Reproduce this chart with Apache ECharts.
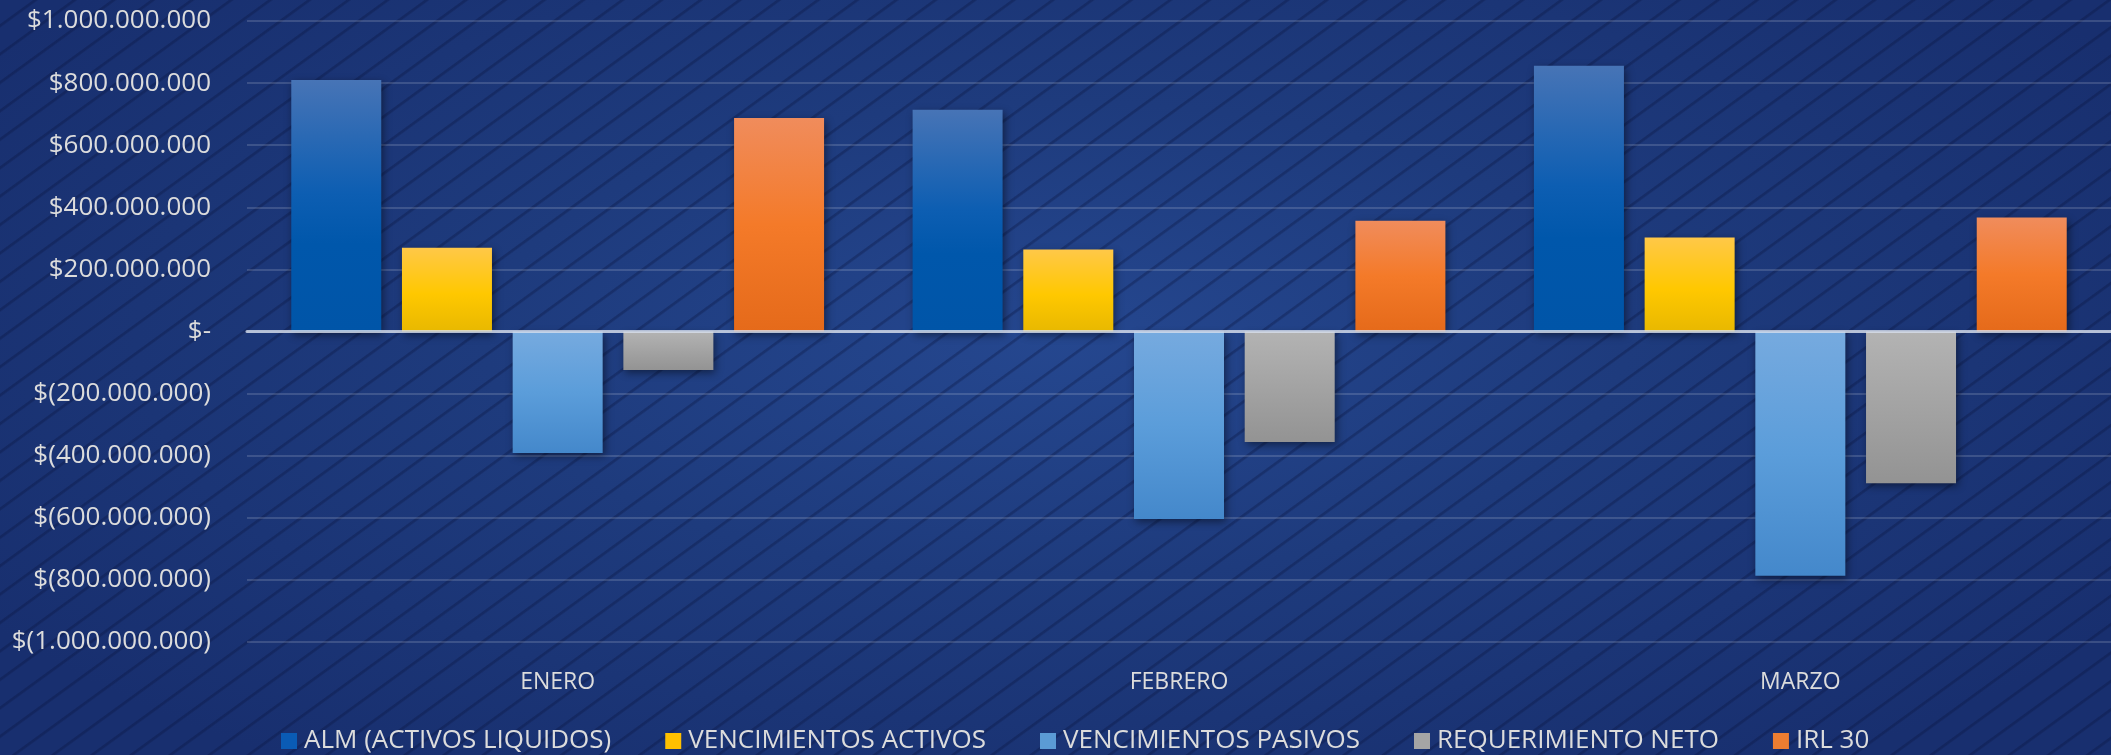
<!DOCTYPE html>
<html>
  <head>
    <meta charset="UTF-8">
    <title>ALM / IRL 30</title>
    <script src="https://cdn.jsdelivr.net/npm/echarts@6/dist/echarts.min.js"></script>
    <style>
      html, body { margin: 0; padding: 0; }
      #chart {
        width: 2111px;
        height: 755px;
        background:
          repeating-linear-gradient(144deg, rgba(0,0,0,0) 0px, rgba(0,0,0,0) 19px, rgba(8,18,60,0.32) 20px, rgba(8,18,60,0.32) 21.5px, rgba(0,0,0,0) 23px),
          radial-gradient(ellipse 60% 70% at 50% 45%, #25478f 0%, #1e3b7d 45%, #182f6f 100%);
      }
    </style>
  </head>
  <body>
    <div id="chart"></div>
    <script>
// data
const months = ['ENERO', 'FEBRERO', 'MARZO'];
const alm = [810000000, 714000000, 856000000];
const vencActivos = [270000000, 264000000, 303000000];
const vencPasivos = [-391000000, -604000000, -787000000];
const requerimiento = [-124000000, -356000000, -489000000];
const irl30 = [688000000, 357000000, 367000000];

const yTickLabels = [
  '$(1.000.000.000)', '$(800.000.000)', '$(600.000.000)', '$(400.000.000)', '$(200.000.000)',
  '$-',
  '$200.000.000', '$400.000.000', '$600.000.000', '$800.000.000', '$1.000.000.000'
];

const FONT = '"Open Sans", sans-serif';
const TEXT = '#dcdcdc';

function grad(stops) {
  return new echarts.graphic.LinearGradient(0, 0, 0, 1,
    stops.map(s => ({offset: s[0], color: s[1]})));
}

const shadow = {
  shadowBlur: 8,
  shadowColor: 'rgba(0,0,0,0.45)',
  shadowOffsetX: 2,
  shadowOffsetY: 3
};

function barSeries(name, data, stops, legendColor) {
  return {
    name: name,
    type: 'bar',
    data: data,
    barWidth: 90,
    barGap: '23%',
    itemStyle: Object.assign({color: grad(stops)}, shadow),
    emphasis: {disabled: true},
    legendColor: legendColor
  };
}

const series = [
  barSeries('ALM (ACTIVOS LIQUIDOS)', alm,
    [[0, '#4774b6'], [0.45, '#0d5eb2'], [0.65, '#0057ab'], [1, '#0055a8']], '#0a5bb5'),
  barSeries('VENCIMIENTOS ACTIVOS', vencActivos,
    [[0, '#ffc848'], [0.55, '#ffc800'], [1, '#e8b800']], '#ffc000'),
  barSeries('VENCIMIENTOS PASIVOS', vencPasivos,
    [[0, '#76aadf'], [0.5, '#5b9dda'], [1, '#4488cb']], '#5b9bd5'),
  barSeries('REQUERIMIENTO NETO', requerimiento,
    [[0, '#b3b3b3'], [1, '#939393']], '#a5a5a5'),
  barSeries('IRL 30', irl30,
    [[0, '#f08c5c'], [0.5, '#f47a29'], [1, '#e56a1a']], '#ed7d31')
];

const chart = echarts.init(document.getElementById('chart'), null, {renderer: 'canvas'});

chart.setOption({
  backgroundColor: 'transparent',
  animation: false,
  textStyle: {fontFamily: FONT},
  grid: {left: 247, right: -6, top: 21, bottom: 113, containLabel: false},
  legend: {
    left: 276,
    top: 723,
    itemWidth: 16,
    itemHeight: 16,
    itemGap: 54,
    icon: 'rect',
    textStyle: {color: TEXT, fontSize: 26, fontFamily: FONT, padding: [0, 0, 0, 2]},
    data: series.map(s => ({name: s.name, itemStyle: {color: s.legendColor, shadowBlur: 0}}))
  },
  xAxis: {
    type: 'category',
    data: months,
    z: 5,
    axisLine: {lineStyle: {color: 'rgba(215,222,236,0.8)', width: 3}},
    axisTick: {show: false},
    axisLabel: {color: TEXT, fontSize: 23, margin: 29, fontFamily: FONT}
  },
  yAxis: {
    type: 'value',
    min: -1000000000,
    max: 1000000000,
    interval: 200000000,
    axisLine: {show: false},
    axisTick: {show: false},
    splitLine: {lineStyle: {color: 'rgba(255,255,255,0.15)', width: 2}},
    axisLabel: {
      color: TEXT,
      fontSize: 26,
      margin: 36,
      fontFamily: FONT,
      formatter: (v, i) => yTickLabels[i]
    }
  },
  series: series.map(s => {
    const c = Object.assign({}, s);
    delete c.legendColor;
    return c;
  })
});
    </script>
  </body>
</html>
